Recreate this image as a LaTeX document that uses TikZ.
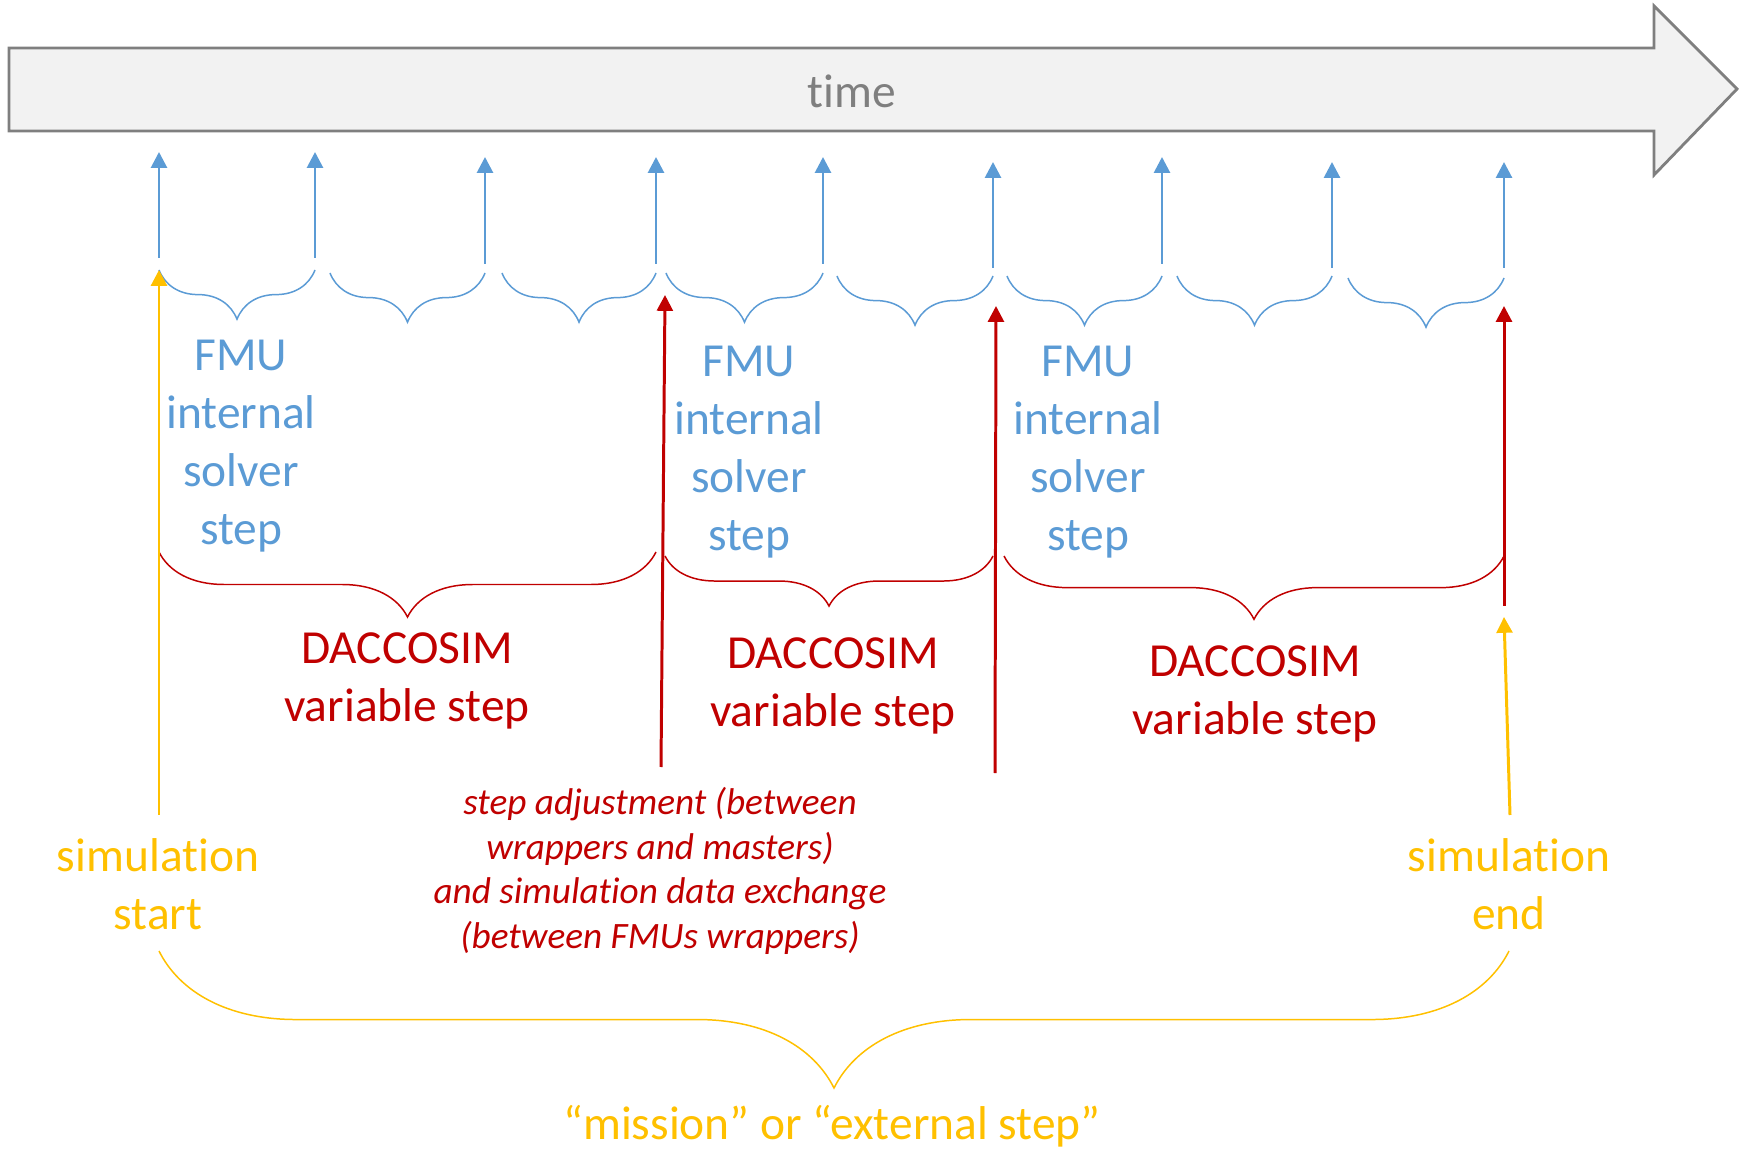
\documentclass[tikz,border=0pt]{standalone}
\usepackage{fontspec}
\setmainfont{Carlito}[Ligatures=NoCommon]
\usetikzlibrary{arrows.meta,decorations.pathreplacing}

\definecolor{fmublue}{HTML}{5B9BD5}
\definecolor{dacred}{HTML}{C00000}
\definecolor{simyellow}{HTML}{FFC000}
\definecolor{timegray}{HTML}{7F7F7F}
\definecolor{timefill}{HTML}{F2F2F2}

\tikzset{
  big/.style={font=\fontsize{27}{33}\selectfont, align=center, inner sep=0pt},
  note/.style={font=\fontsize{21.2}{25.3}\selectfont\itshape, align=center, inner sep=0pt, text=dacred},
  timeline/.style={draw=timegray, fill=timefill, line width=1.6pt},
  tick/.style={color=fmublue, line width=1.6pt, -{Triangle[length=9pt,width=9pt]}},
  redtick/.style={color=dacred, line width=1.7pt, -{Triangle[length=9pt,width=9pt]}},
  yeltick/.style={color=simyellow, line width=1.7pt, -{Triangle[length=9pt,width=9pt]}},
  brc/.style={decorate, decoration={brace, mirror, amplitude=#1}, line width=0.85pt},
}

\begin{document}
\begin{tikzpicture}[x=0.02cm, y=-0.02cm]
\useasboundingbox (0,0) rectangle (1744,1151);

% time axis
\draw[timeline] (9,48) -- (1654,48) -- (1654,6) -- (1737,89) -- (1654,175) -- (1654,131) -- (9,131) -- cycle;
\node (time) at (852,91) [big, text=timegray] {time};

% internal solver steps
\coordinate (b1) at (159,258);  \coordinate (t1) at (159,152);
\coordinate (b2) at (315,258);  \coordinate (t2) at (315,152);
\coordinate (b3) at (485,264);  \coordinate (t3) at (485,157);
\coordinate (b4) at (656,264);  \coordinate (t4) at (656,157);
\coordinate (b5) at (823,264);  \coordinate (t5) at (823,157);
\coordinate (b6) at (993,268);  \coordinate (t6) at (993,162);
\coordinate (b7) at (1162,264); \coordinate (t7) at (1162,157);
\coordinate (b8) at (1332,268); \coordinate (t8) at (1332,162);
\coordinate (b9) at (1504,268); \coordinate (t9) at (1504,162);
\draw[tick] (b1) -- (t1);
\draw[tick] (b2) -- (t2);
\draw[tick] (b3) -- (t3);
\draw[tick] (b4) -- (t4);
\draw[tick] (b5) -- (t5);
\draw[tick] (b6) -- (t6);
\draw[tick] (b7) -- (t7);
\draw[tick] (b8) -- (t8);
\draw[tick] (b9) -- (t9);

\draw[brc=28pt, fmublue] (159,270) -- (315,270);
\draw[brc=28pt, fmublue] (330,273) -- (485,273);
\draw[brc=28pt, fmublue] (502,273) -- (656,273);
\draw[brc=28pt, fmublue] (666,273) -- (823,273);
\draw[brc=28pt, fmublue] (837,276) -- (993,276);
\draw[brc=28pt, fmublue] (1007,276) -- (1162,276);
\draw[brc=28pt, fmublue] (1177,276) -- (1332,276);
\draw[brc=28pt, fmublue] (1348,278) -- (1504,278);

\node (fmu1) at (241,446) [big, text=fmublue] {FMU\\internal\\solver\\step};
\node (fmu2) at (749,452) [big, text=fmublue] {FMU\\internal\\solver\\step};
\node (fmu3) at (1088,452) [big, text=fmublue] {FMU\\internal\\solver\\step};

% DACCOSIM steps
\draw[brc=37pt, dacred] (159,552) -- (656,552);
\draw[brc=28.5pt, dacred] (665,556) -- (993,556);
\draw[brc=36pt, dacred] (1004,556) -- (1504,556);

\node (dac1) at (407,681) [big, text=dacred] {DACCOSIM\\variable step};
\node (dac2) at (833,686) [big, text=dacred] {DACCOSIM\\variable step};
\node (dac3) at (1255,694) [big, text=dacred] {DACCOSIM\\variable step};

\node (exch) at (660,871) [note] {step adjustment (between\\wrappers and masters)\\and simulation data exchange\\(between FMUs wrappers)};

\coordinate (r1) at (661,767);  \coordinate (s1) at (665,295);
\coordinate (r2) at (995,773);  \coordinate (s2) at (996,306);
\coordinate (r3) at (1504,606); \coordinate (s3) at (1504,306);
\draw[redtick] (r1) -- (s1);
\draw[redtick] (r2) -- (s2);
\draw[redtick] (r3) -- (s3);

% simulation start / end
\node (simstart) at (158,884) [big, text=simyellow] {simulation\\start};
\node (simend) at (1509,884) [big, text=simyellow] {simulation\\end};
\coordinate (y1) at (159,815);  \coordinate (z1) at (159,270);
\coordinate (y2) at (1510,815); \coordinate (z2) at (1504,617);
\draw[yeltick] (y1) -- (z1);
\draw[yeltick] (y2) -- (z2);

\draw[brc=78pt, simyellow] (159,951) -- (1509,951);
\node (mission) at (832,1126) [big, text=simyellow] {“mission” or “external step”};

\end{tikzpicture}
\end{document}
